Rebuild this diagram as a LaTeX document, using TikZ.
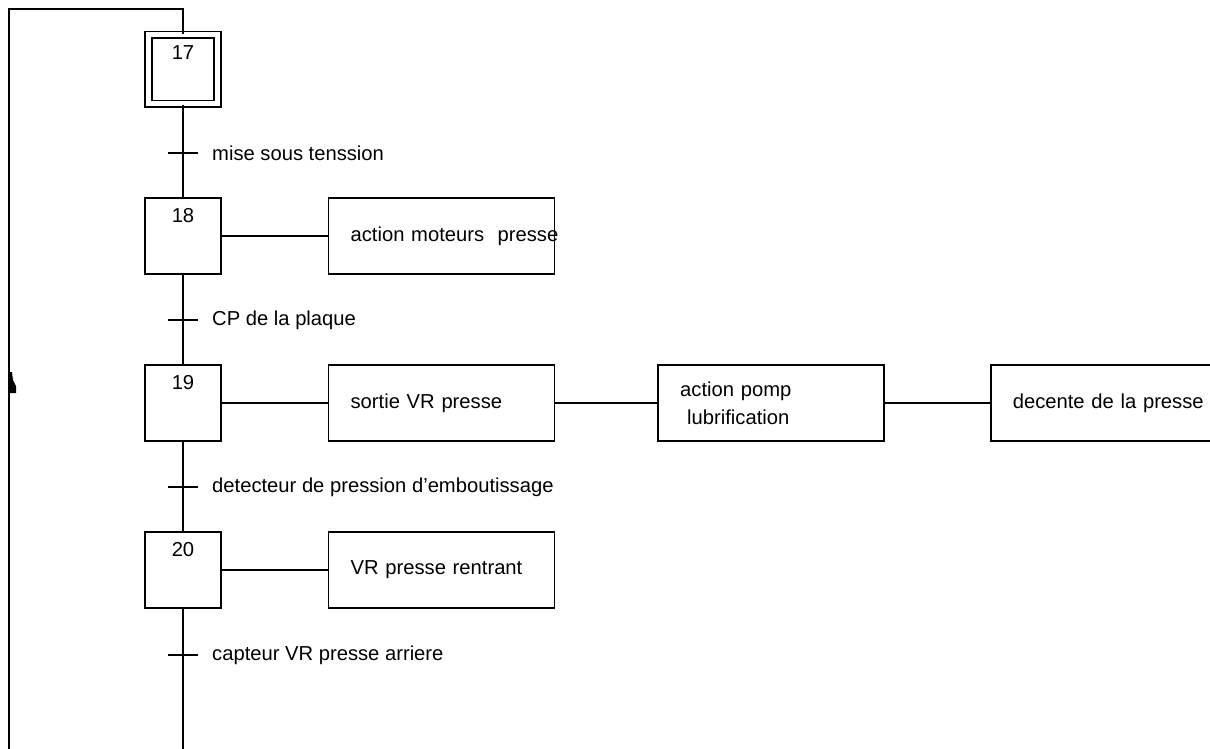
\documentclass[tikz,border=0pt]{standalone}
\usepackage{fontspec}
\setmainfont{Liberation Sans}
\usetikzlibrary{positioning}

\begin{document}
\begin{tikzpicture}[x=1pt,y=-1pt]
    \tikzstyle{every node}=[font=\fontsize{20.2}{28}\selectfont]
    \tikzstyle{etape}=[rectangle, draw, line width=1.6pt, minimum width=76pt, minimum height=76pt, inner sep=0pt]
    \tikzstyle{etapeinit}=[etape, double, double distance=5pt, minimum width=69pt, minimum height=69pt]
    \tikzstyle{action}=[rectangle, draw, line width=1.6pt, minimum height=76pt, text width=182pt, inner xsep=22pt, inner ysep=0pt, align=left]
    \tikzstyle{recept}=[anchor=west, inner sep=0pt]
    \tikzstyle{trait}=[line width=1.6pt]

    \useasboundingbox (0,0) rectangle (1210,749);
    \clip (0,0) rectangle (1210,749);

    \node[etapeinit, label={[anchor=center, yshift=-18pt]north:17}] (s17) at (183,69.5) {};
    \node[etape, label={[anchor=center, yshift=-18.5pt]north:18}] (s18) at (183,236) {};
    \node[etape, label={[anchor=center, yshift=-18.5pt]north:19}] (s19) at (183,403) {};
    \node[etape, label={[anchor=center, yshift=-18.5pt]north:20}] (s20) at (183,570) {};

    \node[action, right=106pt of s18] (a18) {\mbox{action moteurs\ \ presse}};
    \node[action, right=106pt of s19] (a19) {sortie VR presse};
    \node[action, right=102pt of a19] (a19b) {action pomp\\\hspace*{7pt}lubrification};
    \node[action, right=105pt of a19b] (a19c) {\mbox{decente de la presse}};
    \node[action, right=106pt of s20] (a20) {VR presse rentrant};

    \coordinate (haut) at (183,9);
    \coordinate (hautg) at (9,9);
    \coordinate (basg) at (9,749);
    \coordinate (bas) at (183,749);
    \coordinate (t1) at (183,153);
    \coordinate (t2) at (183,320);
    \coordinate (t3) at (183,487);
    \coordinate (t4) at (183,655);

    \draw[trait] (basg) -- (hautg) -- (haut) -- (s17.north);
    \draw[trait] (s17.south) -- (s18.north);
    \draw[trait] (s18.south) -- (s19.north);
    \draw[trait] (s19.south) -- (s20.north);
    \draw[trait] (s20.south) -- (bas);

    \foreach \t in {t1,t2,t3,t4}
        \draw[trait] ([xshift=-15pt]\t) -- ([xshift=15pt]\t);

    \node[recept] (r1) at (212,153) {mise sous tenssion};
    \node[recept] (r2) at (212,320) {CP de la plaque};
    \node[recept] (r3) at (212,487) {detecteur de pression d'emboutissage};
    \node[recept] (r4) at (212,655) {capteur VR presse arriere};

    \draw[trait] (s18.east) -- (a18.west);
    \draw[trait] (s19.east) -- (a19.west);
    \draw[trait] (a19.east) -- (a19b.west);
    \draw[trait] (a19b.east) -- (a19c.west);
    \draw[trait] (s20.east) -- (a20.west);

    \fill (9,372) -- (12,372) -- (13,380) -- (16,386) -- (16,393) -- (9,393) -- cycle;
\end{tikzpicture}
\end{document}
